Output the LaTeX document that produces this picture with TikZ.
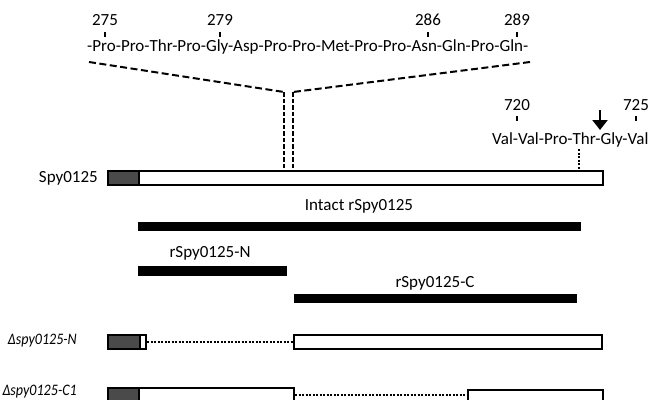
\documentclass[tikz,border=0pt]{standalone}
\usepackage{fontspec}
\setmainfont{Carlito}
\usetikzlibrary{arrows.meta}
\definecolor{darkseg}{HTML}{4A4A4A}
\newcommand{\narrowit}[1]{\scalebox{0.88}[1]{\fontsize{16}{18}\selectfont\itshape #1}}
\tikzset{
  lbl/.style={font=\fontsize{17}{19}\selectfont, inner sep=0pt},
  ilbl/.style={inner sep=0pt, anchor=east},
  seg/.style={draw=black, line width=2pt, fill=white, inner sep=0pt, anchor=north west},
  dseg/.style={seg, fill=darkseg},
  solidbar/.style={fill=black, inner sep=0pt, anchor=north west},
  dashlink/.style={line width=2pt, dash pattern=on 7pt off 3.5pt},
  vlink/.style={line width=2pt, dash pattern=on 4.5pt off 2pt},
  dotlink/.style={line width=2.8pt, dash pattern=on 2pt off 1.5pt},
  tick/.style={line width=1.6pt}
}
\begin{document}
\begin{tikzpicture}[x=1pt,y=-1pt]
\useasboundingbox (0,0) rectangle (652,399);
% peptide
\node[lbl, anchor=west] (pep) at (87,47) {-Pro-Pro-Thr-Pro-Gly-Asp-Pro-Pro-Met-Pro-Pro-Asn-Gln-Pro-Gln-};
\node[lbl] (n275) at (105,20) {275};
\node[lbl] (n279) at (220,20) {279};
\node[lbl] (n286) at (428,20) {286};
\node[lbl] (n289) at (517,20) {289};
\foreach \x in {105,220,428,517} \draw[tick] (\x,32) -- (\x,37);
% Spy0125
\node[lbl, anchor=east] (spy) at (98,178) {Spy0125};
\node[dseg, minimum width=31pt, minimum height=14pt] (s1) at (107,170) {};
\node[seg, minimum width=464pt, minimum height=14pt] (s2) at (138,170) {};
% dashed zoom lines
\coordinate (pl) at (89,62);
\coordinate (pr) at (530,62);
\coordinate (cl) at (284,92);
\coordinate (cr) at (293,92);
\draw[dashlink] (pl) -- (cl);
\draw[dashlink] (pr) -- (cr);
\draw[vlink] (cl) -- (cl |- s2.north);
\draw[vlink] (cr) -- (cr |- s2.north);
% C-terminal
\node[lbl] (n720) at (517,105) {720};
\node[lbl] (n725) at (636,105) {725};
\draw[tick] (517,116) -- (517,121);
\draw[tick] (636,116) -- (636,121);
\node[lbl, anchor=west] (cterm) at (492,140) {Val-Val-Pro-Thr-Gly-Val};
\coordinate (arrtop) at (600,110);
\coordinate (arrbot) at (600,130);
\draw[line width=2.2pt, -{Triangle[width=15pt,length=10pt]}] (arrtop) -- (arrbot);
\coordinate (cut) at (579,149);
\draw[dotlink] (cut) -- (cut |- s2.north);
% recombinant fragments
\node[lbl] (intact) at (359,206) {Intact rSpy0125};
\node[solidbar, minimum width=443pt, minimum height=9pt] (bi) at (138,222) {};
\node[lbl] (rn) at (210,253) {rSpy0125-N};
\node[solidbar, minimum width=149pt, minimum height=10pt] (bn) at (138,266) {};
\node[lbl] (rc) at (435,283) {rSpy0125-C};
\node[solidbar, minimum width=283pt, minimum height=9pt] (bc) at (294,294) {};
% deletion N
\node[ilbl] (dn) at (77,341) {\narrowit{Δspy0125-N}};
\node[dseg, minimum width=32pt, minimum height=14pt] (dn1) at (107,334) {};
\node[seg, minimum width=6pt, minimum height=14pt] (dn2) at (139,334) {};
\node[seg, minimum width=308pt, minimum height=14pt] (dn3) at (293,334) {};
\draw[dotlink] (dn2.east) -- (dn3.west);
% deletion C1
\node[ilbl] (dc) at (77,392) {\narrowit{Δspy0125-C1}};
\node[dseg, minimum width=31pt, minimum height=16pt] (dc1) at (107,387) {};
\node[seg, minimum width=155pt, minimum height=16pt] (dc2) at (138,387) {};
\node[seg, minimum width=135pt, minimum height=16pt] (dc3) at (467,389) {};
\draw[dotlink] ([yshift=1pt]dc2.east) -- ([yshift=1pt]dc2.east -| dc3.west);
\end{tikzpicture}
\end{document}
